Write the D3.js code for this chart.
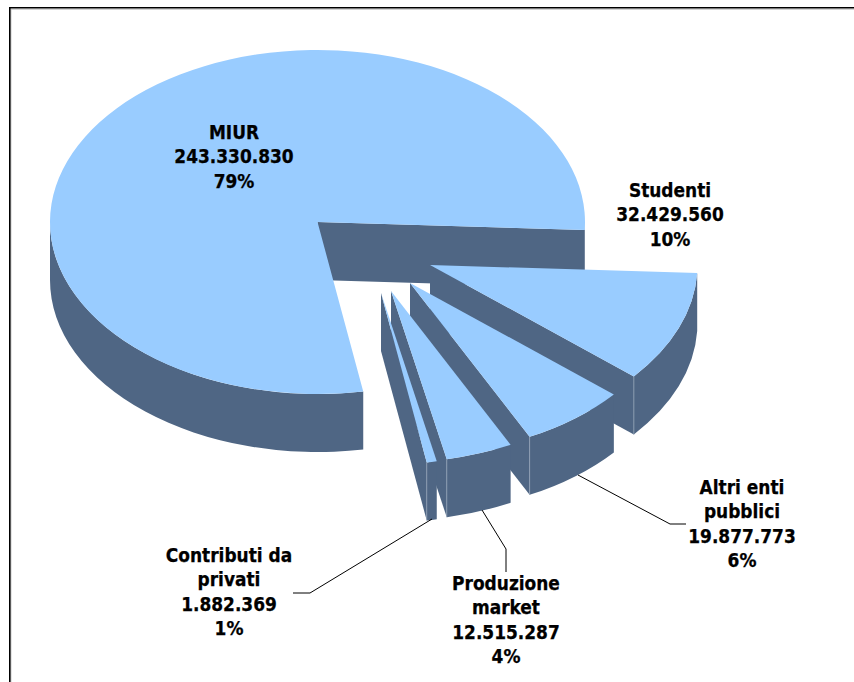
<!DOCTYPE html>
<html><head><meta charset="utf-8">
<script src="https://cdn.jsdelivr.net/npm/d3@7/dist/d3.min.js"></script>
<style>html,body{margin:0;padding:0;background:#fff;overflow:hidden}svg{display:block}
text{font-family:"DejaVu Sans",sans-serif;font-stretch:condensed;font-weight:700;font-size:18.9px;fill:#000;stroke:#000;stroke-width:0.25px;text-anchor:middle}</style>
</head><body><svg id="c" width="854" height="682"></svg>
<script>
const categories = ["Studenti","Altri enti pubblici","Produzione market","Contributi da privati","MIUR"];
const values = [32429560,19877773,12515287,1882369,243330830];
const percents = ["10%","6%","4%","1%","79%"];
const labelLines = [["Studenti"],["Altri enti","pubblici"],["Produzione","market"],["Contributi da","privati"],["MIUR"]];

const W=854,H=682, RX=267.5, RY=172, DEPTH=58, START_DEG=2.7;
const TOP="#99CCFF", SIDE="#4F6684", EDGE="#93A3B8";
const apexes=[[430,265],[410,283],[391,291],[381,293],[317.5,222]];
const labelPos=[[670,197],[742,494],[506,590],[229,562],[234,139]];
const leaders=[null,[[578,475],[670,524],[686,524]],[[482,510],[506,549],[506,572]],[[432,519],[310,593],[293,593]],null];
const LINE=24.4;

const fmt=d3.formatLocale({decimal:",",thousands:".",grouping:[3],currency:["","€"]}).format(",d");
const svg=d3.select("#c");
const rad=d=>d*Math.PI/180;
const pie=d3.pie().sort(null).startAngle(rad(90+START_DEG)).endAngle(rad(90+START_DEG+360));
const arcs=pie(values);
const arcGen=d3.arc().innerRadius(0).outerRadius(RX);

// projected point from d3-pie angle (0 = north, clockwise)
const px=(c,a)=>c[0]+RX*Math.sin(a), py=(c,a)=>c[1]-RY*Math.cos(a);

function wallPath(c,a0,a1){
  return `M${px(c,a0)},${py(c,a0)}A${RX},${RY} 0 0 1 ${px(c,a1)},${py(c,a1)}`+
         `L${px(c,a1)},${py(c,a1)+DEPTH}A${RX},${RY} 0 0 0 ${px(c,a0)},${py(c,a0)+DEPTH}Z`;
}
function face(g,c,a){
  const x1=px(c,a), y1=py(c,a);
  g.append("path").attr("fill",SIDE).attr("d",`M${c[0]},${c[1]}L${x1},${y1}L${x1},${y1+DEPTH}L${c[0]},${c[1]+DEPTH}Z`);
}
function slice(i,a){
  const c=apexes[i], g=svg.append("g");
  if(i===4){
    // main pie: its start-edge cut face shows through the gap
    face(g,c,rad(90+START_DEG));
    g.append("path").attr("fill",SIDE).attr("d",wallPath(c,a.startAngle,rad(270)));
    g.append("path").attr("fill",SIDE).attr("d",wallPath(c,rad(90),rad(90+START_DEG)));
  } else {
    face(g,c,a.endAngle);
    g.append("path").attr("fill",SIDE).attr("d",wallPath(c,a.startAngle,a.endAngle));
    const x1=px(c,a.endAngle), y1=py(c,a.endAngle);
    g.append("line").attr("x1",x1).attr("x2",x1).attr("y1",y1).attr("y2",y1+DEPTH).attr("stroke",EDGE).attr("stroke-width",0.8);
  }
  g.append("path").attr("fill",TOP)
    .attr("transform",`translate(${c[0]},${c[1]}) scale(1,${RY/RX})`)
    .attr("d",arcGen(a));
}
// frame
svg.append("path").attr("d",`M${W},9.3H11V${H}`).attr("fill","none").attr("stroke","#bbb").attr("stroke-width",0.8);
svg.append("path").attr("d",`M${W},7.8H9.8V${H}`).attr("fill","none").attr("stroke","#000").attr("stroke-width",1.6);

[4,0,1,2,3].forEach(i=>slice(i,arcs[i]));

leaders.forEach(l=>{ if(l) svg.append("path").attr("d",d3.line()(l)).attr("fill","none").attr("stroke","#000").attr("stroke-width",1); });

categories.forEach((c,i)=>{
  const lines=[...labelLines[i],fmt(values[i]),percents[i]];
  const t=svg.append("text").attr("x",labelPos[i][0]).attr("y",labelPos[i][1]);
  lines.forEach((s,k)=>t.append("tspan").attr("x",labelPos[i][0]).attr("y",labelPos[i][1]+k*LINE).text(s));
});
</script></body></html>
